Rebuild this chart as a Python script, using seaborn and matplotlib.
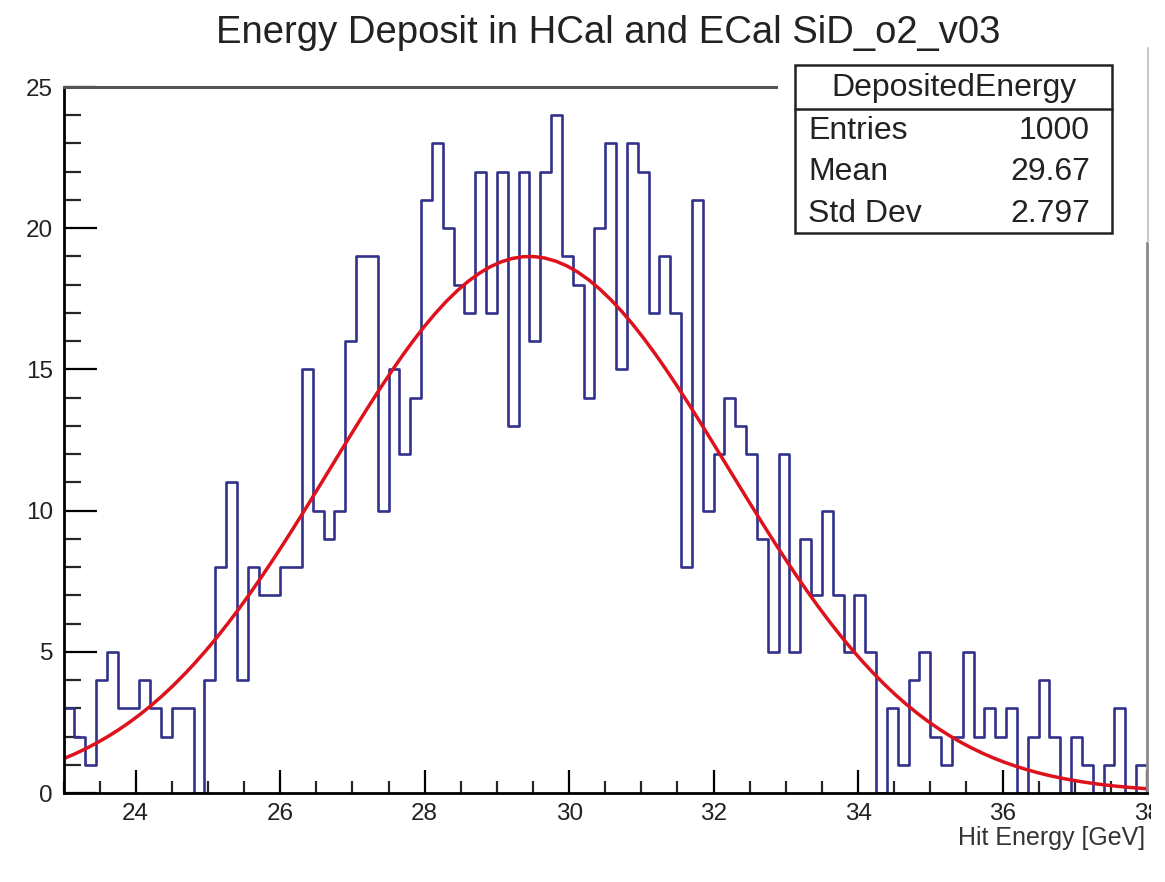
import numpy as np
import pandas as pd
import matplotlib
matplotlib.use("Agg")
import matplotlib.pyplot as plt
from matplotlib.patches import Rectangle
from matplotlib.lines import Line2D
from matplotlib.ticker import MultipleLocator
import seaborn as sns

# Histogram binning (100 bins of 0.15 GeV from 23 GeV) and counts
bin_low = 23.0
bin_width = 0.15
counts = [3, 2, 1, 4, 5, 3, 3, 4, 3, 2,
          3, 3, 0, 4, 8, 11, 4, 8, 7, 7,
          8, 8, 15, 10, 9, 10, 16, 19, 19, 10,
          15, 12, 14, 21, 23, 20, 18, 17, 22, 17,
          22, 13, 22, 16, 22, 24, 19, 18, 14, 20,
          23, 15, 23, 22, 17, 19, 17, 8, 21, 10,
          12, 14, 13, 12, 9, 5, 12, 5, 9, 7,
          10, 7, 5, 7, 5, 0, 3, 1, 4, 5,
          2, 1, 2, 5, 2, 3, 2, 3, 0, 2,
          4, 2, 0, 2, 1, 0, 1, 3, 0, 1]

# Gaussian fit parameters (red curve)
fit_amplitude = 19.0
fit_mean = 29.45
fit_sigma = 2.75

# Stats box
stats_name = "DepositedEnergy"
stats_labels = ["Entries", "Mean", "Std Dev"]
stats_values = ["1000", "29.67", "2.797"]

title = "Energy Deposit in HCal and ECal SiD_o2_v03"
x_label = "Hit Energy [GeV]"

sns.set_style("ticks")
plt.rcParams['font.family'] = ['Liberation Sans', 'DejaVu Sans']

W, H = 1165, 882
fig = plt.figure(figsize=(W / 100, H / 100), dpi=100)


def fx(x):
    return x / W


def fy(y):
    return 1 - y / H


# plot frame in pixels: left 63.5, right 1147, top 87, bottom 793
ax = fig.add_axes([fx(63.5), fy(793), fx(1147 - 63.5), (793 - 87) / H])

n_bins = len(counts)
edges = [bin_low + bin_width * k for k in range(n_bins + 1)]
centers = [bin_low + bin_width * (k + 0.5) for k in range(n_bins)]
hist_df = pd.DataFrame({"energy": centers, "count": counts})

sns.histplot(data=hist_df, x="energy", weights="count", bins=edges,
             element="step", fill=False, color="#32328c", linewidth=1.9, ax=ax)

fit_x = np.linspace(edges[0], edges[-1], 100)
fit_y = fit_amplitude * np.exp(-0.5 * ((fit_x - fit_mean) / fit_sigma) ** 2)
sns.lineplot(x=fit_x, y=fit_y, color="#de121c", linewidth=2.5, ax=ax)

ax.set_xlim(23, 38)
ax.set_ylim(0, 25)
ax.set_xlabel("")
ax.set_ylabel("")

ax.xaxis.set_major_locator(MultipleLocator(2))
ax.xaxis.set_minor_locator(MultipleLocator(0.5))
ax.yaxis.set_major_locator(MultipleLocator(5))
ax.yaxis.set_minor_locator(MultipleLocator(1))

ax.tick_params(axis='y', which='major', direction='in', length=23.5, width=1.6,
               labelsize=17.5, pad=7.5, colors='black', labelcolor='#222222')
ax.tick_params(axis='y', which='minor', direction='in', length=12.5, width=1.6)
ax.tick_params(axis='x', which='major', direction='in', length=16.5, width=1.6,
               labelsize=17.5, pad=7, colors='black', labelcolor='#222222')
ax.tick_params(axis='x', which='minor', direction='in', length=8.5, width=1.6)

ax.spines['left'].set_color('black')
ax.spines['bottom'].set_color('black')
ax.spines['left'].set_linewidth(2.0)
ax.spines['bottom'].set_linewidth(2.0)
ax.spines['top'].set_color('#555555')
ax.spines['right'].set_color('#8a8a8a')
ax.spines['top'].set_linewidth(2.2)
ax.spines['right'].set_linewidth(2.0)

fig.text(fx(1145), fy(838), x_label, ha='right', va='center', fontsize=18,
         color='#333333')
fig.text(fx(608), fy(43), title, ha='center', va='baseline', fontsize=27.5,
         color='#222222')

# white patch behind the stats box (covers part of the frame)
fig.add_artist(Rectangle((fx(778), fy(242)), fx(1150 - 778), (242 - 48) / H,
                         transform=fig.transFigure, facecolor='white',
                         edgecolor='none', zorder=3))
fig.add_artist(Line2D([fx(1148), fx(1148)], [fy(242), fy(48)],
                      transform=fig.transFigure, color='#c8c8c8', lw=1.5, zorder=3))

# stats box
bx0, bx1, by0, by1 = 795, 1112, 65, 233
fig.add_artist(Rectangle((fx(bx0), fy(by1)), fx(bx1 - bx0), (by1 - by0) / H,
                         transform=fig.transFigure, facecolor='white',
                         edgecolor='#222222', lw=1.8, zorder=4))
fig.add_artist(Line2D([fx(bx0), fx(bx1)], [fy(109), fy(109)],
                      transform=fig.transFigure, color='#222222', lw=1.8, zorder=5))
fig.text(fx((bx0 + bx1) / 2), fy(88), stats_name, ha='center', va='center',
         fontsize=23, color='#222222', zorder=6)
for i, (lab, val) in enumerate(zip(stats_labels, stats_values)):
    yy = 131 + i * 41.5
    fig.text(fx(808), fy(yy), lab, ha='left', va='center', fontsize=23,
             color='#222222', zorder=6)
    fig.text(fx(1090), fy(yy), val, ha='right', va='center', fontsize=23,
             color='#222222', zorder=6)

# image is cut off on the right edge
fig.add_artist(Rectangle((fx(1151), 0), fx(W - 1151), 1, transform=fig.transFigure,
                         facecolor='white', edgecolor='none', zorder=7))

fig.savefig("out.png", dpi=100)
